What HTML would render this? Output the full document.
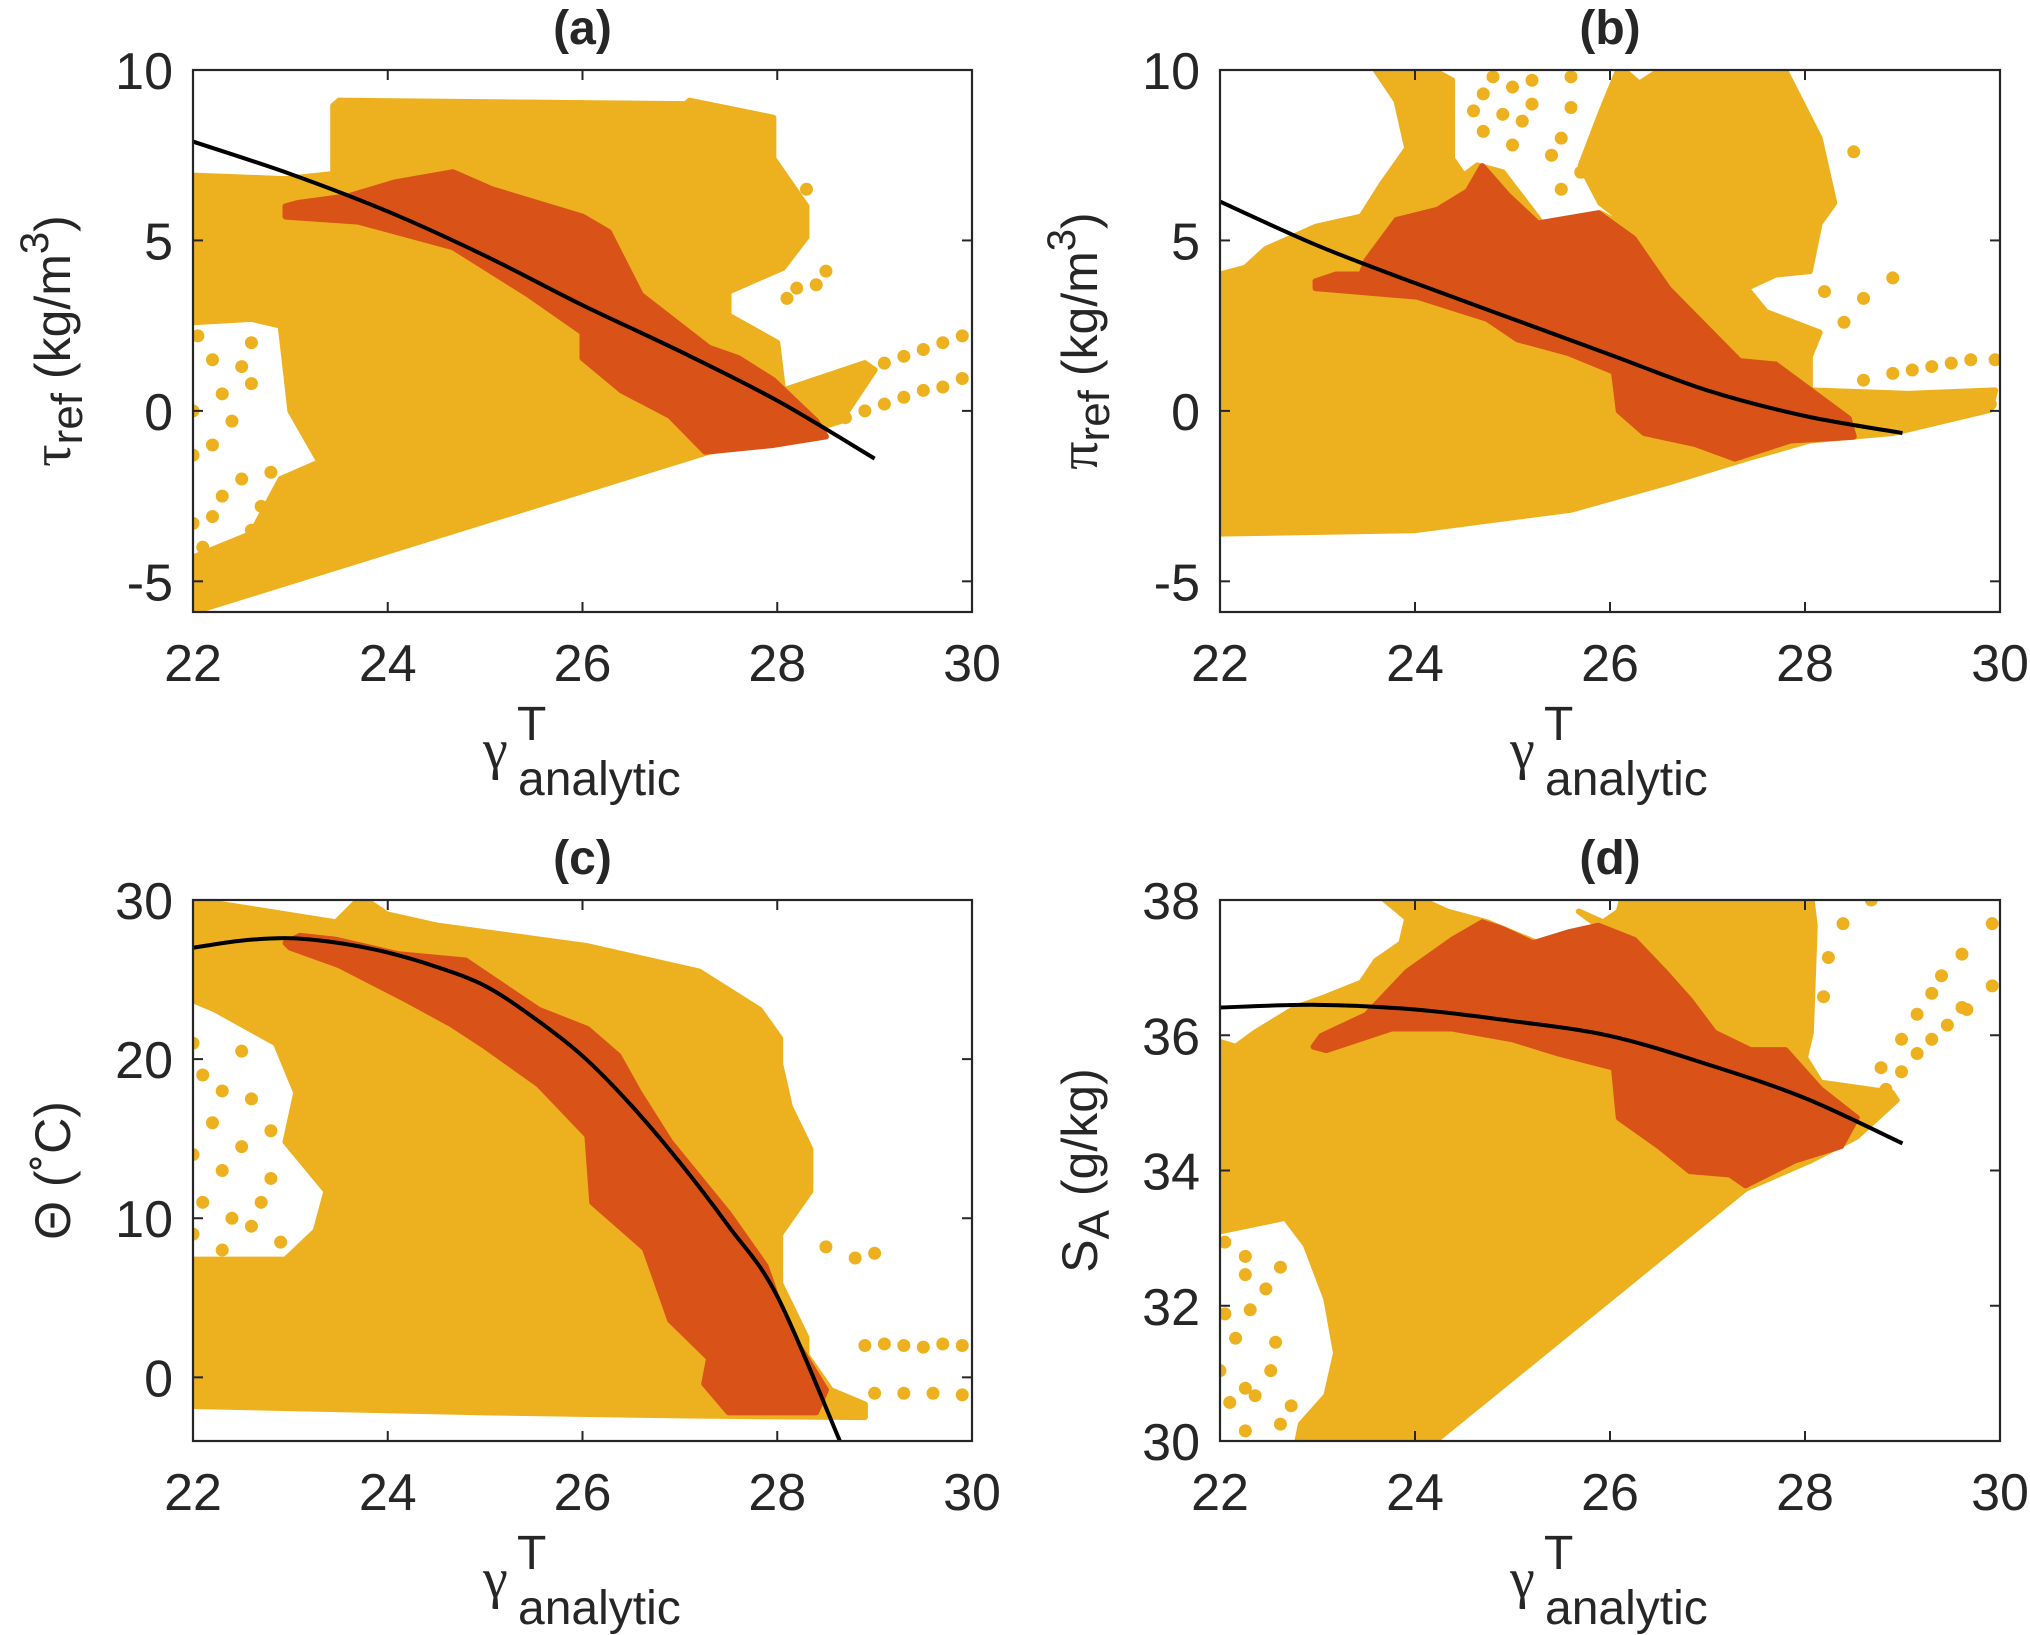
<!DOCTYPE html>
<html><head><meta charset="utf-8"><style>
body{margin:0;background:#fff}
svg{display:block}
text{font-family:"Liberation Sans",sans-serif;fill:#262626}
.g{font-family:"Liberation Serif",serif}
</style></head><body>
<svg id="fig" width="2030" height="1635" viewBox="0 0 2030 1635" xmlns="http://www.w3.org/2000/svg"></svg>
<script>
// ---------- data (data units) ----------
const xTicks = [22,24,26,28,30];
const aYTicks = [-5,0,5,10];
const bYTicks = [-5,0,5,10];
const cYTicks = [0,10,20,30];
const dYTicks = [30,32,34,36,38];

const aYellow = [[22,-5.9],[22,-4.3],[22.6,-3.6],[22.9,-2.0],[23.3,-1.5],[23.0,0],[22.9,2.5],[22.6,2.7],[22,2.6],[22,6.9],[22.95,6.8],[23.44,6.95],[23.44,8.95],[23.5,9.1],[27.06,9.0],[27.1,9.1],[27.96,8.6],[27.96,7.4],[28.3,6.0],[28.3,5.1],[28.06,4.2],[27.5,3.5],[27.5,2.8],[28,2.0],[28.06,0.6],[28.9,1.4],[29.0,1.2],[28.65,-0.3],[27.96,-0.9],[27.3,-1.2]];
const aOrange = [[22.95,6.0],[22.95,5.7],[23.7,5.55],[24.67,4.8],[25.45,3.4],[26.0,2.3],[26.0,1.55],[26.4,0.6],[26.9,-0.15],[27.26,-1.2],[27.96,-1.0],[28.5,-0.75],[28.4,-0.3],[27.96,0.9],[27.6,1.55],[27.3,1.85],[26.6,3.4],[26.27,5.25],[26.0,5.7],[25.07,6.5],[24.67,7.0],[24.07,6.7],[23.6,6.3],[23.08,6.1]];
const aDots = [[28.9,1.2],[29.1,1.4],[29.3,1.6],[29.5,1.8],[29.7,2.0],[29.9,2.2],[28.7,-0.2],[28.9,0.0],[29.1,0.2],[29.3,0.4],[29.5,0.6],[29.7,0.7],[29.9,0.95],[28.3,6.5],[28.5,4.1],[28.4,3.7],[28.2,3.6],[28.1,3.3],[22,0],[22,-1.3],[22.2,-1.0],[22.4,-0.3],[22.5,1.3],[22.6,2],[22.2,1.5],[22.3,-2.5],[22,-3.3],[22.2,-3.1],[22.5,-2],[22.6,-3.5],[22.8,-1.8],[22.1,-4.0],[22.4,-4.1],[22.7,-2.8],[22.3,0.5],[22.6,0.8],[22.05,2.2]];
const aCurveX = [22,23,24,25,26,27,28,29];
const aCurveY = [7.9,6.95,5.85,4.55,3.1,1.75,0.3,-1.4];

const bYellow = [[22,-3.6],[24.0,-3.5],[25.6,-2.9],[26.6,-2.1],[27.4,-1.4],[28.05,-0.87],[28.9,-0.65],[29.9,0.03],[29.95,0.6],[29.05,0.5],[28.05,0.6],[28.05,1.6],[28.15,2.3],[27.6,2.9],[27.4,3.6],[27.7,4.0],[28.05,4.1],[28.15,5.5],[28.3,6.1],[28.15,8.0],[27.75,10.25],[26.65,10.25],[26.3,9.6],[26.1,10.1],[25.9,8.7],[25.7,7.2],[25.9,6.1],[26.35,5.1],[25.9,5.8],[25.3,5.5],[24.9,7.0],[24.64,7.2],[24.5,6.9],[24.38,7.4],[24.38,9.7],[24.12,10.1],[23.55,10.2],[23.81,9.1],[23.92,7.7],[23.66,6.65],[23.45,5.7],[22.98,5.4],[22.47,4.75],[22.26,4.2],[22,4.0]];
const bOrange = [[22.98,3.8],[22.98,3.6],[24.02,3.35],[24.74,2.7],[25.05,2.1],[25.57,1.7],[26.04,1.15],[26.09,0],[26.35,-0.65],[26.87,-0.97],[27.28,-1.4],[27.85,-0.87],[28.5,-0.76],[28.45,-0.23],[27.95,0.83],[27.7,1.36],[27.33,1.46],[26.6,3.58],[26.24,5.06],[25.88,5.8],[25.26,5.5],[24.95,6.33],[24.69,7.18],[24.54,6.44],[24.23,5.9],[23.81,5.6],[23.5,4.4],[23.45,4.0],[23.19,4.0]];
const bDots = [[28.6,0.9],[28.9,1.1],[29.1,1.2],[29.3,1.3],[29.5,1.4],[29.7,1.5],[29.95,1.5],[28.9,-0.3],[29.1,-0.2],[29.3,-0.1],[29.5,0.0],[29.7,0.1],[29.9,0.2],[28.5,7.6],[28.9,3.9],[28.2,3.5],[28.6,3.3],[28.4,2.6],[24.8,9.8],[25.0,9.5],[25.2,9.7],[24.9,8.7],[25.1,8.5],[25.0,7.8],[25.2,9.0],[24.7,8.2],[25.6,9.8],[25.6,8.9],[25.5,8.0],[25.4,7.5],[25.7,7.0],[25.5,6.5],[24.7,9.3],[24.6,8.8]];
const bCurveX = [22,23,24,25,26,27,28,29];
const bCurveY = [6.14,4.85,3.75,2.7,1.65,0.6,-0.15,-0.65];

const cYellow = [[22,-1.8],[25.0,-2.2],[27.1,-2.4],[28.9,-2.5],[28.9,-1.7],[28.55,-0.8],[28.3,1.4],[28.3,2.5],[28.03,5.9],[28.03,9.0],[28.34,11.7],[28.34,14.35],[28.13,17.0],[28.03,19.7],[28.03,21.3],[27.82,23.1],[27.2,25.5],[26.05,27.1],[24.5,28.4],[23.99,29.1],[23.73,30.2],[23.47,28.6],[22.23,29.8],[22,30],[22,23.7],[22.23,23.1],[22.85,21.0],[23.06,17.9],[22.95,14.8],[23.37,11.7],[23.26,9.2],[22.95,7.4],[22,7.4]];
const cOrange = [[22.95,27.3],[23.1,27.75],[23.47,27.5],[24.1,26.6],[24.8,26.2],[25.55,23.1],[26.05,21.9],[26.37,20.2],[26.58,17.9],[26.9,14.8],[27.5,10.3],[27.88,7.0],[28.1,3.2],[28.5,-0.8],[28.4,-2.2],[27.5,-2.2],[27.25,-0.4],[27.3,1.2],[26.9,3.6],[26.64,8.1],[26.1,11.0],[26.05,15.2],[25.55,18.4],[25.0,20.8],[24.65,22.2],[24.2,23.7],[23.5,25.9],[23.0,27.0]];
const cDots = [[28.9,2.0],[29.1,2.1],[29.3,2.0],[29.5,1.9],[29.7,2.1],[29.9,2.0],[29.0,-1.0],[29.3,-1.0],[29.6,-1.0],[29.9,-1.1],[28.8,7.5],[29.0,7.8],[28.5,8.2],[22,21],[22.1,19],[22.3,18],[22.5,20.5],[22.6,17.5],[22.2,16],[22,14],[22.3,13],[22.5,14.5],[22.8,12.5],[22.1,11],[22.4,10],[22,9],[22.6,9.5],[22.9,8.5],[22.3,8],[22.7,11],[22.8,15.5]];
const cCurveX = [22,22.5,23,23.5,24,24.5,25,25.5,26,26.5,27,27.5,28,28.65];
const cCurveY = [27.0,27.45,27.6,27.3,26.7,25.8,24.6,22.6,20.2,17.1,13.5,9.5,5.1,-4.1];

const dYellow = [[22,35.9],[22,33.1],[22.67,33.3],[22.88,32.9],[23.09,32.1],[23.19,31.3],[23.09,30.67],[22.83,30.25],[22.78,29.9],[24.12,29.9],[27.39,33.73],[28.06,34.15],[28.53,34.5],[28.94,35.04],[28.89,35.15],[28.16,35.3],[28.0,35.67],[28.06,36.04],[28.1,37.62],[28.06,38.1],[26.14,38.1],[26.09,37.83],[25.93,37.67],[25.68,37.83],[25.88,37.62],[25.26,37.36],[24.74,37.67],[24.33,37.83],[23.92,38.1],[23.66,38.04],[23.92,37.73],[23.86,37.36],[23.6,37.1],[23.45,36.78],[23.09,36.57],[22.78,36.41],[22.36,36.04],[22.16,35.83]];
const dOrange = [[22.96,35.83],[23.04,35.99],[23.5,36.3],[23.92,36.94],[24.38,37.41],[24.69,37.67],[24.9,37.57],[25.21,37.36],[25.57,37.52],[25.88,37.62],[26.25,37.41],[26.56,36.94],[26.82,36.52],[27.07,36.04],[27.44,35.78],[27.8,35.78],[28.16,35.2],[28.53,34.78],[28.37,34.36],[27.9,34.15],[27.39,33.78],[27.23,33.94],[26.82,33.99],[26.5,34.36],[26.09,34.78],[26.04,35.52],[25.47,35.73],[25.0,35.94],[24.38,36.1],[23.76,36.1],[23.09,35.78]];
const dDots = [[22.05,32.94],[22.26,32.73],[22.62,32.57],[22.26,32.46],[22.47,32.25],[22.05,31.88],[22.31,31.94],[22.16,31.52],[22.57,31.46],[22,31.04],[22.26,30.78],[22.1,30.57],[22.36,30.67],[22.62,30.25],[22.26,30.15],[22.73,30.52],[22.52,31.04],[28.68,38],[28.39,37.65],[29.92,37.65],[29.61,37.2],[29.92,36.73],[29.66,36.38],[28.24,37.15],[27.73,36.94],[28.19,36.57],[28.78,35.52],[28.99,35.94],[29.15,36.31],[29.3,36.62],[29.4,36.88],[28.83,35.2],[28.99,35.46],[29.15,35.73],[29.3,35.94],[29.46,36.15],[29.61,36.41]];
const dCurveX = [22,23,24,25,26,27,28,29];
const dCurveY = [36.41,36.45,36.38,36.21,35.99,35.57,35.07,34.4];

// ---------- drawing ----------
const NS = "http://www.w3.org/2000/svg";
const svg = document.getElementById('fig');
const YEL = "#EDB120", ORG = "#D95319", AX = "#262626";
function mk(tag, attrs, parent){
  const e = document.createElementNS(NS, tag);
  for (const k in attrs) e.setAttribute(k, attrs[k]);
  (parent||svg).appendChild(e); return e;
}
function panel(id, box, ylim, yTicks, yellow, orange, dots, cx, cy, title, ylab){
  const [L,T,R,B] = box;
  const sx = v => L + (v-22)/(30-22)*(R-L);
  const sy = v => B - (v-ylim[0])/(ylim[1]-ylim[0])*(B-T);
  const g = mk('g', {});
  
  
  const cp = mk('clipPath', {id:'clip'+id}, g);
  mk('rect', {x:L, y:T, width:R-L, height:B-T}, cp);
  const pg = mk('g', {'clip-path':'url(#clip'+id+')'}, g);
  const py = mk('polygon', {points: yellow.map(p=>sx(p[0])+','+sy(p[1])).join(' '), fill:YEL, stroke:YEL, 'stroke-width':6, 'stroke-linejoin':'round'}, pg);
  
  
  dots.forEach(p=>{
    const c = mk('circle', {cx:sx(p[0]), cy:sy(p[1]), r:6.5, fill:YEL}, pg);
    
    
  });
  const po = mk('polygon', {points: orange.map(p=>sx(p[0])+','+sy(p[1])).join(' '), fill:ORG, stroke:ORG, 'stroke-width':6, 'stroke-linejoin':'round'}, pg);
  
  
  const P = cx.map((x,i)=>[sx(x), sy(cy[i])]);
  let d = 'M'+P[0][0]+','+P[0][1];
  for (let i=0;i<P.length-1;i++){
    const p0=P[Math.max(0,i-1)], p1=P[i], p2=P[i+1], p3=P[Math.min(P.length-1,i+2)];
    const c1=[p1[0]+(p2[0]-p0[0])/6, p1[1]+(p2[1]-p0[1])/6];
    const c2=[p2[0]-(p3[0]-p1[0])/6, p2[1]-(p3[1]-p1[1])/6];
    d += ' C'+c1[0]+','+c1[1]+' '+c2[0]+','+c2[1]+' '+p2[0]+','+p2[1];
  }
  const fit = mk('path', {d:d, fill:'none', stroke:'#000', 'stroke-width':4}, pg);
  
  
  const bx = mk('rect', {x:L, y:T, width:R-L, height:B-T, fill:'none', stroke:AX, 'stroke-width':2.2}, g);
  
  
  xTicks.forEach(v=>{
    const x = sx(v);
    mk('line', {x1:x, y1:B, x2:x, y2:B-10, stroke:AX, 'stroke-width':2}, g);
    mk('line', {x1:x, y1:T, x2:x, y2:T+10, stroke:AX, 'stroke-width':2}, g);
    const t = mk('text', {x:x, y:B+69, 'text-anchor':'middle', 'font-size':52}, g);
    t.textContent = v;
    
    
  });
  yTicks.forEach(v=>{
    const y = sy(v);
    mk('line', {x1:L, y1:y, x2:L+10, y2:y, stroke:AX, 'stroke-width':2}, g);
    mk('line', {x1:R, y1:y, x2:R-10, y2:y, stroke:AX, 'stroke-width':2}, g);
    const t = mk('text', {x:L-20, y:y+19, 'text-anchor':'end', 'font-size':52}, g);
    t.textContent = v;
    
    
  });
  const tt = mk('text', {x:(L+R)/2, y:T-26, 'text-anchor':'middle', 'font-size':48, 'font-weight':'bold', fill:'#000'}, g);
  tt.textContent = title;
  
  
  const xl = mk('g', {}, g);
  
  
  const gm = mk('text', {x:L+290, y:B+156, 'font-size':56, class:'g'}, xl); gm.textContent = 'γ';
  const tT = mk('text', {x:L+324, y:B+128, 'font-size':48}, xl); tT.textContent = 'T';
  const an = mk('text', {x:L+325, y:B+183, 'font-size':48}, xl); an.textContent = 'analytic';
  const yl = mk('text', {transform:'translate('+(L-123)+','+((T+B)/2)+') rotate(-90)', 'text-anchor':'middle', 'font-size':50}, g);
  
  
  yl.innerHTML = ylab;
}
panel('a', [193,70,972,612], [-5.9,10], aYTicks, aYellow, aOrange, aDots, aCurveX, aCurveY, '(a)',
  '<tspan class="g" font-size="56">τ</tspan><tspan font-size="44" dy="12">ref</tspan><tspan dy="-12"> (kg/m</tspan><tspan font-size="40" dy="-22">3</tspan><tspan dy="22">)</tspan>');
panel('b', [1220,70,2000,612], [-5.9,10], bYTicks, bYellow, bOrange, bDots, bCurveX, bCurveY, '(b)',
  '<tspan class="g" font-size="56">π</tspan><tspan font-size="44" dy="12">ref</tspan><tspan dy="-12"> (kg/m</tspan><tspan font-size="40" dy="-22">3</tspan><tspan dy="22">)</tspan>');
panel('c', [193,900,972,1441], [-4,30], cYTicks, cYellow, cOrange, cDots, cCurveX, cCurveY, '(c)',
  'Θ (˚C)');
panel('d', [1220,900,2000,1441], [30,38], dYTicks, dYellow, dOrange, dDots, dCurveX, dCurveY, '(d)',
  'S<tspan font-size="44" dy="12">A</tspan><tspan dy="-12"> (g/kg)</tspan>');
</script>
</body></html>
